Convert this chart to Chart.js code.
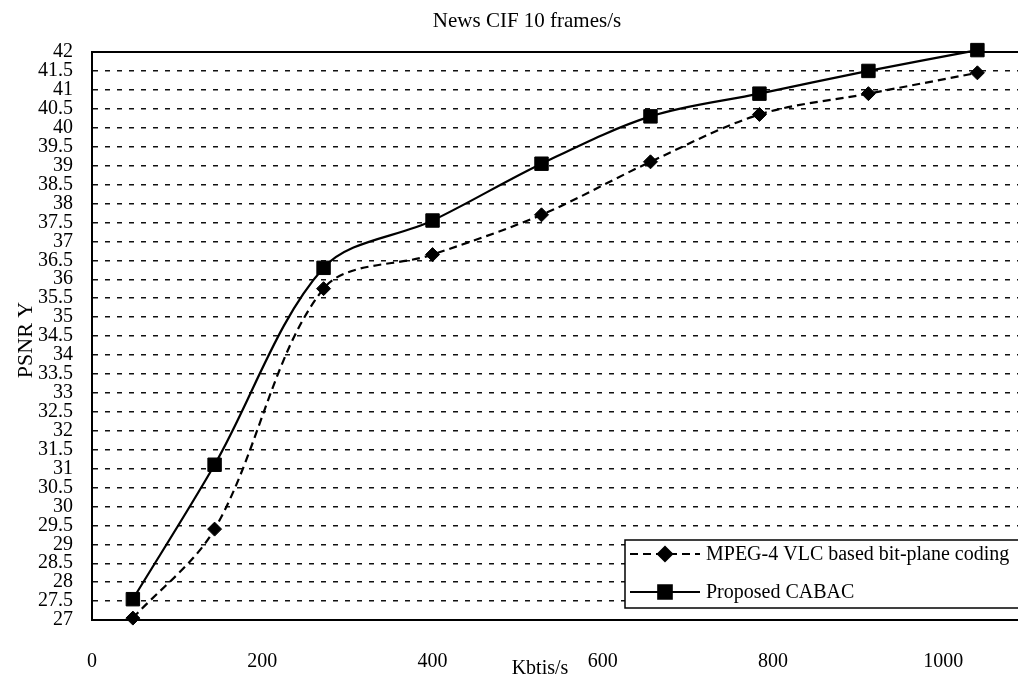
<!DOCTYPE html>
<html>
<head>
<meta charset="utf-8">
<script src="https://cdn.jsdelivr.net/npm/chart.js@4.4.1/dist/chart.umd.min.js"></script>
<style>
  html, body { margin: 0; padding: 0; background: #fff; overflow: hidden; }
  #wrap { width: 1018px; height: 680px; overflow: hidden; }
</style>
</head>
<body>
<div id="wrap"><canvas id="psnr" width="1056" height="680"></canvas></div>
<script>
// bitrate (Kbit/s) and PSNR Y (dB)
const bitrates = [48, 144, 272, 400, 528, 656, 784, 912, 1040];
const mpeg4Vlc = [27.05, 29.4, 35.75, 36.65, 37.7, 39.1, 40.35, 40.9, 41.45];
const cabac = [27.55, 31.1, 36.3, 37.55, 39.05, 40.3, 40.9, 41.5, 42.05];

const seriesNames = ['MPEG-4 VLC based bit-plane coding', 'Proposed CABAC'];
const chartTitle = 'News CIF 10 frames/s';
const xTitle = 'Kbtis/s';
const yTitle = 'PSNR Y';

const serif = '"Liberation Serif", "DejaVu Serif", serif';

function toPoints(vals) {
  return bitrates.map((b, i) => ({ x: b, y: vals[i] }));
}

// title, axis titles, top border and the inside legend
const decorations = {
  id: 'decorations',
  afterDraw(chart) {
    const ctx = chart.ctx;
    const area = chart.chartArea;
    ctx.save();
    ctx.fillStyle = '#000';
    ctx.textAlign = 'center';
    ctx.textBaseline = 'middle';

    ctx.font = '21px ' + serif;
    ctx.fillText(chartTitle, 527, 21);

    ctx.font = '20px ' + serif;
    ctx.fillText(xTitle, 540, 669);

    ctx.save();
    ctx.translate(26, 340);
    ctx.rotate(-Math.PI / 2);
    ctx.font = '22px ' + serif;
    ctx.fillText(yTitle, 0, 0);
    ctx.restore();

    // solid frame line on top
    ctx.strokeStyle = '#000';
    ctx.lineWidth = 2;
    ctx.beginPath();
    ctx.moveTo(area.left, area.top);
    ctx.lineTo(area.right, area.top);
    ctx.stroke();

    // legend box
    const bx = 625, by = 540, bw = 420, bh = 68;
    ctx.fillStyle = '#fff';
    ctx.fillRect(bx, by, bw, bh);
    ctx.lineWidth = 1.5;
    ctx.strokeRect(bx, by, bw, bh);

    const rows = [554, 592];
    chart.data.datasets.forEach((ds, i) => {
      const y = rows[i];
      ctx.strokeStyle = ds.borderColor;
      ctx.lineWidth = ds.borderWidth;
      ctx.setLineDash(ds.borderDash || []);
      ctx.beginPath();
      ctx.moveTo(630, y);
      ctx.lineTo(700, y);
      ctx.stroke();
      ctx.setLineDash([]);
      Chart.helpers.drawPoint(ctx, {
        pointStyle: ds.pointStyle,
        radius: ds.pointRadius,
        rotation: 0,
        borderWidth: 1
      }, 665, y);
      ctx.fillStyle = '#000';
      ctx.fill();
      ctx.font = '20px ' + serif;
      ctx.textAlign = 'left';
      ctx.fillText(ds.label, 706, y + 1);
    });
    ctx.restore();
  }
};

new Chart(document.getElementById('psnr'), {
  type: 'line',
  data: {
    datasets: [
      {
        label: seriesNames[0],
        data: toPoints(mpeg4Vlc),
        borderColor: '#000',
        backgroundColor: '#000',
        borderWidth: 2.2,
        borderDash: [8, 5],
        pointStyle: 'rectRot',
        pointRadius: 7,
        pointBorderWidth: 1,
        tension: 0.33,
        clip: false
      },
      {
        label: seriesNames[1],
        data: toPoints(cabac),
        borderColor: '#000',
        backgroundColor: '#000',
        borderWidth: 2.2,
        pointStyle: 'rect',
        pointRadius: 9.5,
        pointBorderWidth: 1,
        tension: 0.33,
        clip: false
      }
    ]
  },
  options: {
    responsive: false,
    animation: false,
    layout: { padding: { top: 52, right: 0, bottom: 0, left: 0 } },
    plugins: {
      legend: { display: false },
      title: { display: false },
      tooltip: { enabled: false }
    },
    scales: {
      x: {
        type: 'linear',
        min: 0,
        max: 1120,
        afterBuildTicks(scale) {
          scale.ticks = scale.ticks.filter(t => t.value % 200 === 0);
        },
        afterFit(scale) { scale.height = 60; },
        grid: { display: false, drawTicks: false },
        border: { display: true, color: '#000', width: 2 },
        ticks: {
          stepSize: 200,
          padding: 30,
          maxRotation: 0,
          color: '#000',
          font: { family: serif, size: 20 },
          callback: v => String(v)
        }
      },
      y: {
        min: 27,
        max: 42,
        afterFit(scale) { scale.width = 92; },
        grid: { color: '#111', lineWidth: 1.4, drawTicks: false },
        border: { display: true, color: '#000', width: 2, dash: [5, 7] },
        ticks: {
          stepSize: 0.5,
          autoSkip: false,
          padding: 19,
          color: '#000',
          font: { family: serif, size: 20, lineHeight: 1 },
          callback: v => String(v)
        }
      }
    }
  },
  plugins: [decorations]
});
</script>
</body>
</html>
